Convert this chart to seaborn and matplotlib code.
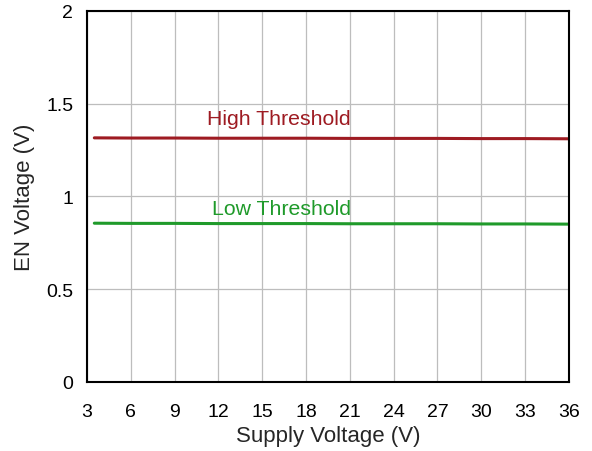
import matplotlib
matplotlib.use("Agg")
import matplotlib.pyplot as plt
import seaborn as sns
import pandas as pd

# data
supply_v = [3.5, 6, 9, 12, 15, 18, 21, 24, 27, 30, 33, 36]
high_thr = [1.315, 1.314, 1.314, 1.313, 1.313, 1.313, 1.312, 1.312, 1.312, 1.311, 1.311, 1.310]
low_thr = [0.855, 0.854, 0.854, 0.853, 0.853, 0.853, 0.852, 0.852, 0.852, 0.851, 0.851, 0.850]
x_ticks = [3, 6, 9, 12, 15, 18, 21, 24, 27, 30, 33, 36]
y_ticks = [0, 0.5, 1, 1.5, 2]

df = pd.DataFrame({
    "Supply": supply_v * 2,
    "EN": high_thr + low_thr,
    "curve": ["High Threshold"] * len(supply_v) + ["Low Threshold"] * len(supply_v),
})

sns.set_style("white")
plt.rcParams["font.family"] = ["Liberation Sans", "DejaVu Sans"]

fig, ax = plt.subplots(figsize=(5.92, 4.52), dpi=100)
sns.lineplot(data=df, x="Supply", y="EN", hue="curve",
             palette={"High Threshold": "#9e1b22", "Low Threshold": "#1f9a2a"},
             linewidth=2.2, legend=False, ax=ax)

ax.set_xlim(3, 36)
ax.set_ylim(0, 2)
ax.set_xticks(x_ticks)
ax.set_yticks(y_ticks)
ax.set_yticklabels(["0", "0.5", "1", "1.5", "2"])
ax.grid(True, color="#bdbdbd", linewidth=0.9)
ax.tick_params(direction="in", length=4, width=1.2, labelsize=14, colors="black")
ax.tick_params(axis="x", pad=15)
ax.tick_params(axis="y", pad=10)
for s in ax.spines.values():
    s.set_color("black")
    s.set_linewidth(1.5)

ax.set_xlabel("Supply Voltage (V)", fontsize=16, labelpad=4)
ax.set_ylabel("EN Voltage (V)", fontsize=16, labelpad=8)

ax.text(16.1, 1.42, "High Threshold", color="#9e1b22", fontsize=15.3, ha="center", va="center")
ax.text(16.3, 0.935, "Low Threshold", color="#1f9a2a", fontsize=15.3, ha="center", va="center")

plt.subplots_adjust(left=0.147, right=0.961, top=0.974, bottom=0.153)
plt.savefig("out.png", dpi=100)
